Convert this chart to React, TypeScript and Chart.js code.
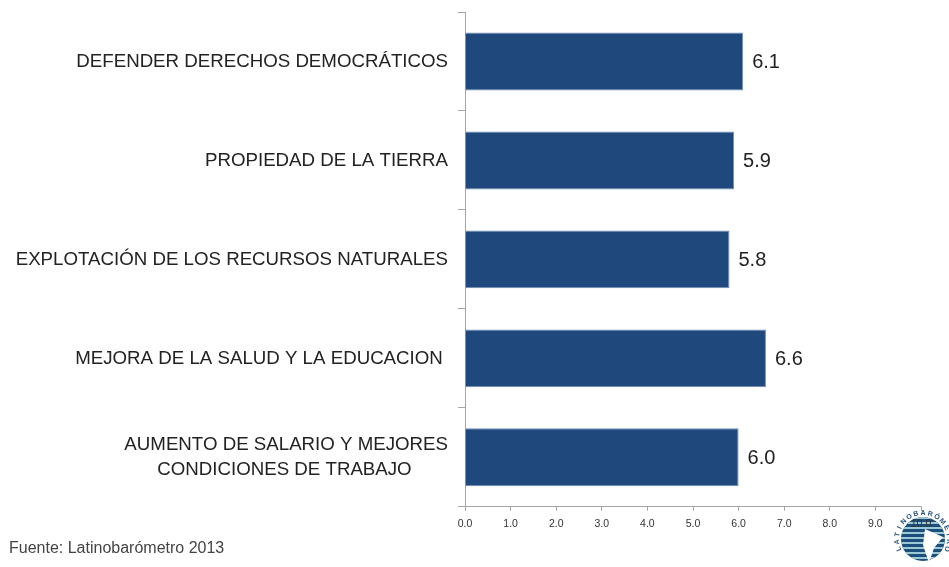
import React, { useEffect, useRef } from "react";
import { Chart, registerables } from "chart.js";

Chart.register(...registerables);

const categories: (string | string[])[] = [
  "DEFENDER DERECHOS DEMOCRÁTICOS",
  "PROPIEDAD DE LA TIERRA",
  "EXPLOTACIÓN DE LOS RECURSOS NATURALES",
  "MEJORA DE LA SALUD Y LA EDUCACION ",
  ["AUMENTO DE SALARIO Y MEJORES", "CONDICIONES DE TRABAJO       "],
];
const values = [6.1, 5.9, 5.8, 6.6, 6.0];
const sourceText = "Fuente: Latinobarómetro 2013";
const logoText = "LATINOBARÓMETRO";

const font = '"Liberation Sans", Arial, sans-serif';

const valueLabels = {
  id: "valueLabels",
  afterDatasetsDraw(chart: any) {
    const { ctx } = chart;
    const meta = chart.getDatasetMeta(0);
    ctx.save();
    ctx.font = `20px ${font}`;
    ctx.fillStyle = "#222";
    ctx.textAlign = "left";
    ctx.textBaseline = "middle";
    meta.data.forEach((bar: any, i: number) => {
      ctx.fillText(values[i].toFixed(1), bar.x + 9, bar.y + 1);
    });
    ctx.restore();
  },
};

const logo = {
  id: "logo",
  beforeDraw(chart: any) {
    const { ctx } = chart;
    const cx = 923;
    const cy = 539;
    ctx.save();
    ctx.beginPath();
    ctx.arc(cx, cy, 22, 0, Math.PI * 2);
    ctx.clip();
    ctx.fillStyle = "#1d4f7c";
    ctx.fillRect(cx - 24, cy - 24, 48, 48);
    ctx.fillStyle = "#9cc9d6";
    for (let y = cy - 22; y < cy + 24; y += 5) ctx.fillRect(cx - 24, y, 48, 2);
    ctx.fillStyle = "#fff";
    ctx.beginPath();
    ctx.moveTo(cx + 2, cy - 10);
    ctx.lineTo(cx + 20, cy - 2);
    ctx.lineTo(cx + 11, cy + 9);
    ctx.lineTo(cx + 6, cy + 24);
    ctx.lineTo(cx, cy + 6);
    ctx.closePath();
    ctx.fill();
    ctx.restore();
    ctx.save();
    ctx.font = `bold 7px ${font}`;
    ctx.fillStyle = "#24527a";
    ctx.textAlign = "center";
    ctx.textBaseline = "middle";
    const chars = logoText.split("");
    const step = 0.28;
    const start = -Math.PI / 2 - ((chars.length - 1) * step) / 2;
    chars.forEach((c, i) => {
      const a = start + i * step;
      ctx.save();
      ctx.translate(cx + Math.cos(a) * 26, cy + Math.sin(a) * 26);
      ctx.rotate(a + Math.PI / 2);
      ctx.fillText(c, 0, 0);
      ctx.restore();
    });
    ctx.restore();
  },
};

export default function App() {
  const ref = useRef<HTMLCanvasElement>(null);
  useEffect(() => {
    const chart = new Chart(ref.current!, {
      type: "bar",
      data: {
        labels: categories as any,
        datasets: [
          {
            data: values,
            backgroundColor: "#1F497D",
            borderColor: "#6f8fb5",
            borderWidth: 1,
            categoryPercentage: 0.585,
            barPercentage: 1,
          },
        ],
      },
      plugins: [logo, valueLabels],
      options: {
        indexAxis: "y",
        animation: false,
        responsive: false,
        layout: { padding: { top: 12, right: 28, bottom: 0, left: 9 } },
        plugins: {
          legend: { display: false },
          tooltip: { enabled: false },
          title: {
            display: true,
            text: sourceText,
            position: "bottom",
            align: "start",
            color: "#444",
            font: { family: font, size: 16, weight: "normal" },
            padding: { top: 0, bottom: 9 },
          },
        },
        scales: {
          x: {
            min: 0,
            max: 10,
            afterFit(s: any) { s.height = 32; s.paddingLeft = 0; s.paddingRight = 0; },
            grid: { drawOnChartArea: false, color: "#a6a6a6", tickLength: 4 },
            border: { color: "#a6a6a6" },
            ticks: {
              stepSize: 1,
              maxRotation: 0,
              padding: 7,
              color: "#333",
              font: { family: font, size: 10.5 },
              callback: (v: any) => Number(v).toFixed(1),
            },
          },
          y: {
            afterFit(s: any) { s.width = 456; s.paddingTop = 0; s.paddingBottom = 0; },
            grid: { drawOnChartArea: false, color: "#a6a6a6", tickLength: 7 },
            border: { color: "#a6a6a6" },
            ticks: {
              padding: 10,
              color: "#222",
              font: { family: font, size: 18.7, lineHeight: 1.33 },
            },
          },
        },
      },
    });
    return () => chart.destroy();
  }, []);
  return (
    <canvas
      ref={ref}
      width={949}
      height={567}
      style={{ position: "absolute", left: 0, top: 0, width: 949, height: 567, filter: "blur(0.5px)" }}
    />
  );
}
